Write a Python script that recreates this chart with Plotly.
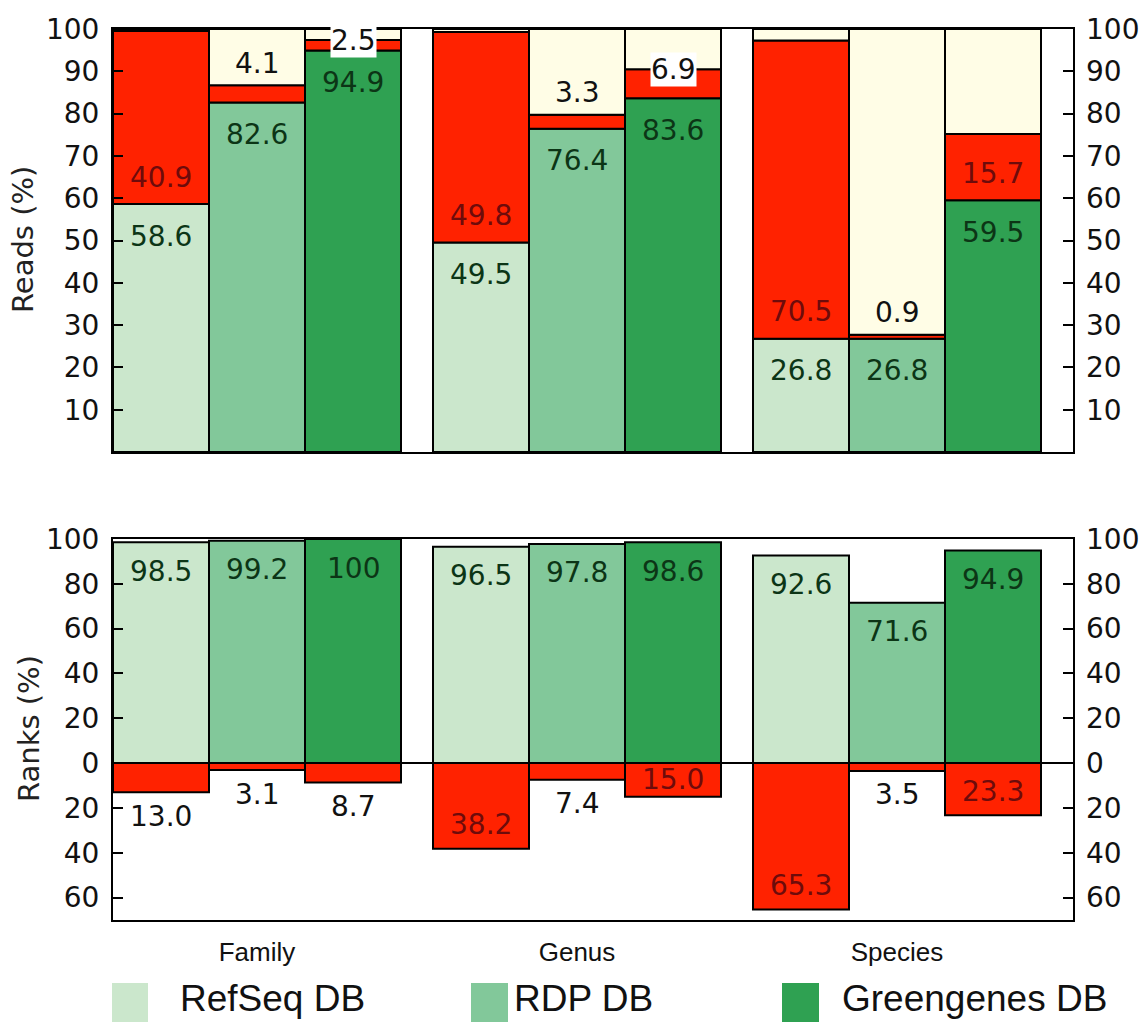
import plotly.graph_objects as go

# ---- data -------------------------------------------------------------
ranks = ["Family", "Genus", "Species"]
databases = ["RefSeq DB", "RDP DB", "Greengenes DB"]

# Reads (%): correctly assigned / wrongly assigned, per rank
reads_refseq_ok = [58.6, 49.5, 26.8]
reads_refseq_bad = [40.9, 49.8, 70.5]
reads_rdp_ok = [82.6, 76.4, 26.8]
reads_rdp_bad = [4.1, 3.3, 0.9]
reads_gg_ok = [94.9, 83.6, 59.5]
reads_gg_bad = [2.5, 6.9, 15.7]

# Ranks (%): detected taxa (positive) / false taxa (plotted downwards)
ranks_refseq_ok = [98.5, 96.5, 92.6]
ranks_refseq_bad = [13.0, 38.2, 65.3]
ranks_rdp_ok = [99.2, 97.8, 71.6]
ranks_rdp_bad = [3.1, 7.4, 3.5]
ranks_gg_ok = [100, 98.6, 94.9]
ranks_gg_bad = [8.7, 15.0, 23.3]

reads_ticks = [10, 20, 30, 40, 50, 60, 70, 80, 90, 100]
ranks_tickvals = [100, 80, 60, 40, 20, 0, -20, -40, -60]
ranks_ticktext = ["100", "80", "60", "40", "20", "0", "20", "40", "60"]

# ---- styling ----------------------------------------------------------
db_colors = ["#cbe7cc", "#82c89a", "#2fa152"]
red = "#ff2200"
cream = "#fffde6"
green_text = "#0c3516"
red_text = "#6e0b0b"
num_font = "DejaVu Sans"
NUM_SIZE = 28
W, H = 1142, 1022
ML, MR, MT, MB = 113, 69, 29, 102
BAR_W = 0.3
RANKS_RANGE = [-70, 100]

reads_ok = [reads_refseq_ok, reads_rdp_ok, reads_gg_ok]
reads_bad = [reads_refseq_bad, reads_rdp_bad, reads_gg_bad]
ranks_ok = [ranks_refseq_ok, ranks_rdp_ok, ranks_gg_ok]
ranks_bad = [ranks_refseq_bad, ranks_rdp_bad, ranks_gg_bad]


def fmt(v):
    return "100" if v == 100 else f"{v:.1f}"


def px_x(p):
    return (p - ML) / (W - ML - MR)


def px_y(p):
    return (H - MB - p) / (H - MT - MB)


top_dom = [px_y(452), 1.0]
bot_dom = [0.0, px_y(539)]
# pixels per percentage point in the lower panel
ranks_ppu = (bot_dom[1] - bot_dom[0]) * (H - MT - MB) / (RANKS_RANGE[1] - RANKS_RANGE[0])


def nfont(color):
    return dict(family=num_font, size=NUM_SIZE, color=color)


fig = go.Figure()
outline = dict(color="black", width=2)
annotations = []

for k, db in enumerate(databases):
    xs = [g + BAR_W / 2 + BAR_W * k for g in range(len(ranks))]
    ok, bad = reads_ok[k], reads_bad[k]
    rest = [100 - o - b for o, b in zip(ok, bad)]
    # upper panel: stacked green / red / cream
    fig.add_trace(go.Bar(x=xs, y=ok, base=[0] * 3, width=BAR_W, name=db,
                         marker=dict(color=db_colors[k], line=outline),
                         xaxis="x", yaxis="y", showlegend=False))
    fig.add_trace(go.Bar(x=xs, y=bad, base=ok, width=BAR_W,
                         marker=dict(color=red, line=outline),
                         xaxis="x", yaxis="y", showlegend=False))
    fig.add_trace(go.Bar(x=xs, y=rest, base=[o + b for o, b in zip(ok, bad)],
                         width=BAR_W, marker=dict(color=cream, line=outline),
                         xaxis="x", yaxis="y", showlegend=False))
    # lower panel: green up, red down
    rok, rbad = ranks_ok[k], ranks_bad[k]
    fig.add_trace(go.Bar(x=xs, y=rok, base=[0] * 3, width=BAR_W,
                         marker=dict(color=db_colors[k], line=outline),
                         xaxis="x2", yaxis="y2", showlegend=False))
    fig.add_trace(go.Bar(x=xs, y=[-b for b in rbad], base=[0] * 3, width=BAR_W,
                         marker=dict(color=red, line=outline),
                         xaxis="x2", yaxis="y2", showlegend=False))

    for i, x in enumerate(xs):
        lab = dict(x=x, xref="x", yref="y", showarrow=False)
        # green value just under the top of the green block
        annotations.append({**lab, "y": ok[i], "yshift": -32, "text": fmt(ok[i]),
                            "font": nfont(green_text)})
        # red value
        if bad[i] >= 10:
            annotations.append({**lab, "y": ok[i], "yshift": 27, "text": fmt(bad[i]),
                                "font": nfont(red_text)})
        elif rest[i] < 10:
            annotations.append({**lab, "y": ok[i] + bad[i], "yshift": 0,
                                "text": fmt(bad[i]), "bgcolor": "white",
                                "borderpad": 0, "font": nfont("#111111")})
        else:
            annotations.append({**lab, "y": ok[i] + bad[i], "yshift": 22,
                                "text": fmt(bad[i]), "font": nfont("#111111")})

        lab2 = dict(x=x, xref="x2", yref="y2", showarrow=False)
        annotations.append({**lab2, "y": rok[i], "yshift": -29, "text": fmt(rok[i]),
                            "font": nfont(green_text)})
        if rbad[i] >= 15:
            # inside the red bar: its middle, or 24 px above its end for long bars
            half_px = rbad[i] * ranks_ppu / 2
            annotations.append({**lab2, "y": -rbad[i] / 2,
                                "yshift": -max(0, half_px - 24), "text": fmt(rbad[i]),
                                "font": nfont(red_text)})
        else:
            annotations.append({**lab2, "y": -rbad[i], "yshift": -24, "text": fmt(rbad[i]),
                                "font": nfont("#111111")})

# invisible points so the right-hand mirror axes get drawn
fig.add_trace(go.Scatter(x=[1.5], y=[50], xaxis="x", yaxis="y3", mode="markers",
                         marker=dict(opacity=0), hoverinfo="skip", showlegend=False))
fig.add_trace(go.Scatter(x=[1.5], y=[0], xaxis="x2", yaxis="y4", mode="markers",
                         marker=dict(opacity=0), hoverinfo="skip", showlegend=False))

# axis titles
annotations.append(dict(text="Reads (%)", textangle=-90, xref="paper", yref="paper",
                        x=px_x(23), y=px_y(240), xanchor="center", yanchor="middle",
                        showarrow=False,
                        font=dict(family=num_font, size=29, color="#222222")))
annotations.append(dict(text="Ranks (%)", textangle=-90, xref="paper", yref="paper",
                        x=px_x(29), y=px_y(729), xanchor="center", yanchor="middle",
                        showarrow=False,
                        font=dict(family=num_font, size=29, color="#222222")))

# legend: colour squares with names
legend_sq = [(112, 148), (471, 508), (782, 819)]
legend_tx = [178, 512, 840]
shapes = []
for k, db in enumerate(databases):
    x0, x1 = legend_sq[k]
    shapes.append(dict(type="rect", xref="paper", yref="paper",
                       x0=px_x(x0), x1=px_x(x1), y0=px_y(983), y1=px_y(1035),
                       fillcolor=db_colors[k], line=dict(width=0)))
    annotations.append(dict(text=db, xref="paper", yref="paper", x=px_x(legend_tx[k]),
                            y=px_y(998), xanchor="left", yanchor="middle",
                            showarrow=False,
                            font=dict(family="Liberation Sans", size=37, color="#111111")))

frame = dict(showline=True, linecolor="black", linewidth=2, mirror=True,
             showgrid=False, zeroline=False, automargin=False)
ytick_font = dict(family=num_font, size=NUM_SIZE, color="#111111")
inside_ticks = dict(ticks="inside", ticklen=10, tickwidth=1.5, tickcolor="black",
                    tickfont=ytick_font, automargin=False)
left_ticks = dict(**inside_ticks, ticklabelstandoff=6)
right_ticks = dict(**inside_ticks, ticklabelstandoff=12)

fig.update_layout(
    width=W, height=H,
    margin=dict(l=ML, r=MR, t=MT, b=MB, autoexpand=False),
    paper_bgcolor="white", plot_bgcolor="white",
    barmode="overlay",
    xaxis=dict(domain=[0, 1], anchor="y", range=[0, 3], showticklabels=False,
               ticks="", **frame),
    yaxis=dict(domain=top_dom, anchor="x", range=[0, 100], tickvals=reads_ticks,
               **left_ticks, showline=True, linecolor="black", linewidth=2,
               mirror=True, showgrid=False, zeroline=False),
    yaxis3=dict(overlaying="y", side="right", anchor="x", range=[0, 100],
                tickvals=reads_ticks, **right_ticks, showgrid=False,
                zeroline=False, showline=False),
    xaxis2=dict(domain=[0, 1], anchor="y2", range=[0, 3],
                tickvals=[g + 1.5 * BAR_W for g in range(len(ranks))], ticktext=ranks,
                ticks="", ticklabelstandoff=8,
                tickfont=dict(family="Liberation Sans", size=26, color="#111111"),
                **frame),
    yaxis2=dict(domain=bot_dom, anchor="x2", range=RANKS_RANGE,
                tickvals=ranks_tickvals, ticktext=ranks_ticktext, **left_ticks,
                showline=True, linecolor="black", linewidth=2, mirror=True,
                showgrid=False, zeroline=True, zerolinecolor="black",
                zerolinewidth=1.5),
    yaxis4=dict(overlaying="y2", side="right", anchor="x2", range=RANKS_RANGE,
                tickvals=ranks_tickvals, ticktext=ranks_ticktext, **right_ticks,
                showgrid=False, zeroline=False, showline=False),
    annotations=annotations,
    shapes=shapes,
    showlegend=False,
)

fig.write_html("out.html")
